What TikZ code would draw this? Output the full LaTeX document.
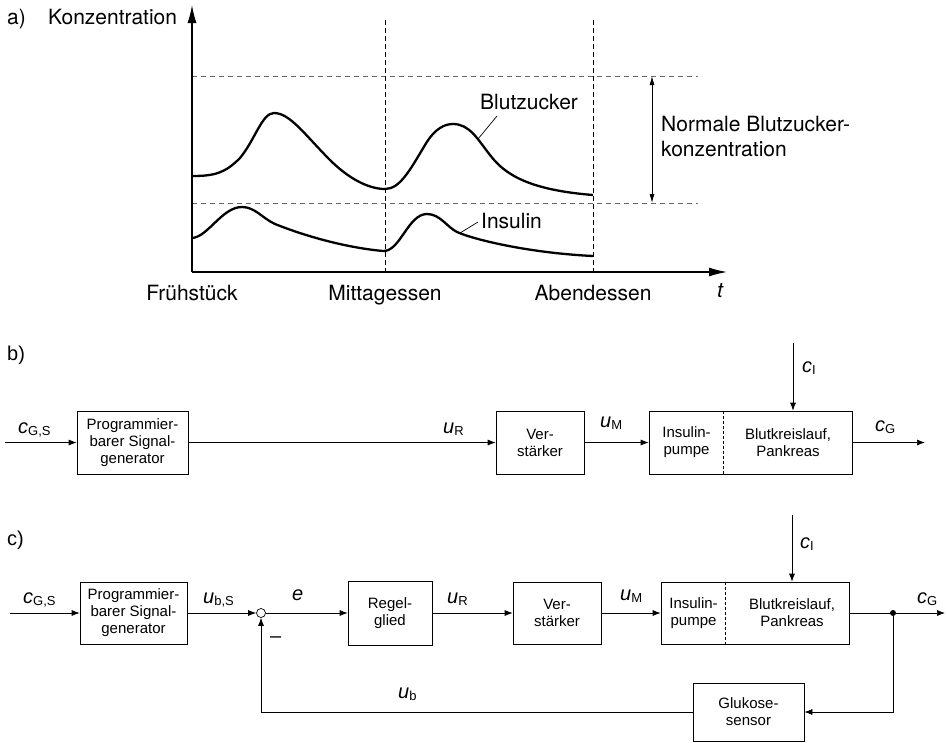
\documentclass[tikz,border=0pt]{standalone}
\usepackage{fontspec}
\setmainfont{TeX Gyre Heros}
\newfontfamily\arialf{Liberation Sans}
\usetikzlibrary{arrows.meta,calc}
\newcommand{\sgl}[2]{\textit{#1}\raisebox{-0.1em}{\fontsize{13}{13}\selectfont #2}}
\tikzset{
  atxt/.style={font=\fontsize{21}{25}\selectfont, inner sep=0pt, anchor=base west},
  lbl/.style={font=\arialf\fontsize{20}{24}\selectfont, inner sep=0pt, anchor=base west},
  blk/.style={draw, line width=0.7pt, font=\arialf\fontsize{15}{17}\selectfont, align=center, inner sep=0pt},
  sig/.style={line width=0.7pt, -{Latex[length=8pt,width=6pt]}},
  wire/.style={line width=0.7pt},
  curve/.style={line width=2.3pt, line join=round},
  hgrid/.style={line width=0.8pt, gray!80!black, dash pattern=on 5pt off 4pt},
  vgrid/.style={line width=0.8pt, black, dash pattern=on 5pt off 3pt},
  axis/.style={line width=1.3pt, -{Latex[length=18pt,width=9pt]}},
}
\begin{document}
\begin{tikzpicture}[x=1pt,y=-1pt]
\useasboundingbox (0,0) rectangle (947,742);

% ---------------- a) ----------------
\node[atxt] (la) at (7,24) {a)};
\node[atxt] (konz) at (48,24) {Konzentration};
\coordinate (O) at (192,272);
\draw[hgrid] (192,76) coordinate (hu) -- (698,76);
\draw[hgrid] (192,203) coordinate (hl) -- (698,203);
\draw[vgrid] (385,20) -- (385,272);
\draw[vgrid] (593,20) -- (593,272);
\draw[axis] (O) -- (192,5);
\draw[axis] (O) -- (727,272);
\draw[line width=0.8pt, {Latex[length=9pt,width=5pt]}-{Latex[length=9pt,width=5pt]}] (652,76) -- (652,203);
\node[atxt, align=left, anchor=north west] (norm) at (661,116) {Normale Blutzucker-\\konzentration};

\draw[curve] (192,176) .. controls (215,176) and (225,173) .. (240,158)
  .. controls (255,140) and (262,113) .. (274,113)
  .. controls (290,113) and (305,135) .. (330,160)
  .. controls (350,180) and (370,189) .. (385,189)
  .. controls (400,189) and (410,170) .. (425,145)
  .. controls (435,128) and (445,124) .. (453,124)
  .. controls (470,124) and (478,140) .. (490,155)
  .. controls (505,175) and (530,190) .. (593,195);
\draw[curve] (192,238) .. controls (208,237) and (222,207) .. (242,207)
  .. controls (255,207) and (262,218) .. (275,224)
  .. controls (310,238) and (350,248) .. (383,251)
  .. controls (400,252) and (408,214) .. (427,214)
  .. controls (440,214) and (447,227) .. (457,232)
  .. controls (475,240) and (530,253) .. (593,256);
\node[atxt] (bz) at (480,109) {Blutzucker};
\draw[line width=0.7pt] (497,116) -- (478,139);
\node[atxt] (ins) at (481,228) {Insulin};
\draw[line width=0.7pt] (478,222) -- (460,233);

\node[atxt, anchor=base] (fr) at (192,300) {Frühstück};
\node[atxt, anchor=base] (mi) at (385,300) {Mittagessen};
\node[atxt, anchor=base] (ab) at (593,300) {Abendessen};
\node[atxt] (tt) at (717,297) {\textit{t}};

% ---------------- b) ----------------
\node[lbl] (lb) at (7,360) {b)};
\node[blk, minimum width=111pt, minimum height=63pt] (b1) at (132.5,442.5) {Programmier-\\barer Signal-\\generator};
\node[blk, minimum width=88pt, minimum height=63pt] (v1) at (540,442.5) {Ver-\\stärker};
\node[blk, minimum width=203pt, minimum height=63pt] (p1) at (750.5,442.5) {};
\draw[wire, densely dashed] ($(p1.north west)+(75,0)$) coordinate (d1) -- (d1 |- p1.south);
\node[font=\arialf\fontsize{15}{17}\selectfont, align=center, inner sep=0pt] (ip1) at (686.5,442.5) {Insulin-\\pumpe};
\node[font=\arialf\fontsize{15}{17}\selectfont, align=center, inner sep=0pt] (bk1) at (788,442.5) {Blutkreislauf,\\Pankreas};
\coordinate (in1) at (5,442.5);
\coordinate (out1) at (925,442.5);
\coordinate (ci1) at (793,343);
\draw[sig] (in1) -- (b1.west);
\draw[sig] (b1.east) -- (v1.west);
\draw[sig] (v1.east) -- (p1.west);
\draw[sig] (p1.east) -- (out1);
\draw[sig] (ci1) -- (ci1 |- p1.north);
\node[lbl] (cgs1) at (18,433) {\sgl{c}{G,S}};
\node[lbl] (ur1) at (443,433) {\sgl{u}{R}};
\node[lbl] (um1) at (600,427) {\sgl{u}{M}};
\node[lbl] (cg1) at (875,431) {\sgl{c}{G}};
\node[lbl] (cI1) at (802,372) {\sgl{c}{I}};

% ---------------- c) ----------------
\node[lbl] (lc) at (7,545) {c)};
\node[blk, minimum width=107pt, minimum height=62pt] (b2) at (133.5,613) {Programmier-\\barer Signal-\\generator};
\node[circle, draw, line width=0.7pt, minimum size=9pt, inner sep=0pt] (sum) at (261,613) {};
\node[blk, minimum width=84pt, minimum height=64pt] (rg) at (390,613) {Regel-\\glied};
\node[blk, minimum width=88pt, minimum height=62pt] (v2) at (557,613) {Ver-\\stärker};
\node[blk, minimum width=188pt, minimum height=62pt] (p2) at (755,613) {};
\draw[wire, densely dashed] ($(p2.north west)+(65,0)$) coordinate (d2) -- (d2 |- p2.south);
\node[font=\arialf\fontsize{15}{17}\selectfont, align=center, inner sep=0pt] (ip2) at (693.5,613) {Insulin-\\pumpe};
\node[font=\arialf\fontsize{15}{17}\selectfont, align=center, inner sep=0pt] (bk2) at (792,613) {Blutkreislauf,\\Pankreas};
\node[blk, minimum width=111pt, minimum height=58pt] (gs) at (748.5,712) {Glukose-\\sensor};
\node[circle, fill, minimum size=6pt, inner sep=0pt] (dot) at (893,613) {};
\coordinate (in2) at (10,613);
\coordinate (out2) at (945,613);
\coordinate (ci2) at (792,515);
\draw[sig] (in2) -- (b2.west);
\draw[sig] (b2.east) -- (sum.west);
\draw[sig] (sum.east) -- (rg.west);
\draw[sig] (rg.east) -- (v2.west);
\draw[sig] (v2.east) -- (p2.west);
\draw[wire] (p2.east) -- (dot);
\draw[sig] (dot) -- (out2);
\draw[sig] (ci2) -- (ci2 |- p2.north);
\draw[sig] (dot) |- (gs.east);
\draw[sig] (gs.west) -| (sum.south);
\node[lbl] (cgs2) at (23,603) {\sgl{c}{G,S}};
\node[lbl] (ubs) at (203,603) {\sgl{u}{b,S}};
\node[lbl] (ee) at (292,600) {\textit{e}};
\node[lbl] (ur2) at (447,603) {\sgl{u}{R}};
\node[lbl] (um2) at (620,600) {\sgl{u}{M}};
\node[lbl] (cg2) at (917,603) {\sgl{c}{G}};
\node[lbl] (cI2) at (800,548) {\sgl{c}{I}};
\node[lbl] (ub) at (398,698) {\sgl{u}{b}};
\node[lbl] (minus) at (270,642) {–};
\end{tikzpicture}
\end{document}
